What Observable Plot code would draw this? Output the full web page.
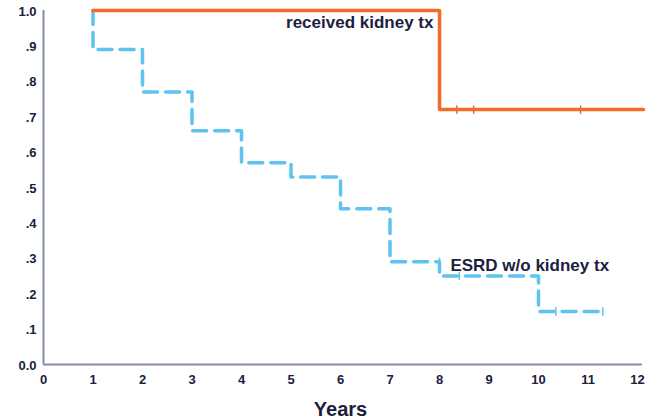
<!DOCTYPE html>
<html><head><meta charset="utf-8">
<script src="https://cdn.jsdelivr.net/npm/d3@7"></script>
<script src="https://cdn.jsdelivr.net/npm/@observablehq/plot@0.6"></script>
<style>
body{margin:0;background:#fff;}
svg{font-family:"Liberation Sans Narrow","Arial Narrow","Liberation Sans",Arial,sans-serif;font-weight:bold;}
</style></head>
<body><div id="chart"></div>
<script>
const xTicks = [0,1,2,3,4,5,6,7,8,9,10,11,12];
const yTicks = [0,0.1,0.2,0.3,0.4,0.5,0.6,0.7,0.8,0.9,1.0];
const yTickLabels = ["0.0",".1",".2",".3",".4",".5",".6",".7",".8",".9","1.0"];
// received kidney tx (step-after)
const txYears = [1, 8, 12.12];
const txSurv = [1.0, 0.72, 0.72];
const txCensorYears = [8.35, 8.69, 10.85];
const txCensorSurv = [0.72, 0.72, 0.72];
// ESRD without kidney tx (step-after)
const esrdYears = [1, 1, 2, 3, 4, 5, 6, 7, 8, 10, 11.3];
const esrdSurv = [1.0, 0.89, 0.77, 0.66, 0.57, 0.53, 0.44, 0.29, 0.25, 0.15, 0.15];
const esrdCensorYears = [8.0, 8.4, 10.35, 11.3];
const esrdCensorSurv = [0.29, 0.25, 0.15, 0.15];

const tx = txYears.map((x,i)=>({x, y: txSurv[i]}));
const esrd = esrdYears.map((x,i)=>({x, y: esrdSurv[i]}));
const txC = txCensorYears.map((x,i)=>({x, y: txCensorSurv[i]}));
const esC = esrdCensorYears.map((x,i)=>({x, y: esrdCensorSurv[i]}));

const axisColor = "#858bab";
const textColor = "#1c2040";
const fmt = d => yTickLabels[yTicks.findIndex(t => Math.abs(t-d)<1e-9)];
const chart = Plot.plot({
  width: 662, height: 419,
  marginLeft: 43, marginRight: 25, marginTop: 10, marginBottom: 55,
  x: {domain: [0,12], label: null},
  y: {domain: [0,1], label: null},
  marks: [
    Plot.axisX({ticks: xTicks, tickSize: 0, tickPadding: 10, fontSize: 13, fontWeight: "bold", fill: textColor, label: null}),
    Plot.axisY({ticks: yTicks, tickSize: 0, tickPadding: 7, dy: 1, fontSize: 13, fontWeight: "bold", fill: textColor, label: null, tickFormat: fmt}),
    Plot.ruleX([0], {stroke: axisColor, strokeWidth: 2}),
    Plot.ruleY([0], {stroke: axisColor, strokeWidth: 2, x2: 12.1}),
    Plot.line(esrd, {x: "x", y: "y", curve: "step-after", stroke: "#5ec4ef", strokeWidth: 3.5, strokeDasharray: "14,8"}),
    Plot.line(tx, {x: "x", y: "y", curve: "step-after", stroke: "#f36a2a", strokeWidth: 3.5}),
    Plot.link(txC, {x1: "x", x2: "x", y1: d => d.y - 0.012, y2: d => d.y + 0.012, stroke: "#f36a2a", strokeWidth: 1.5}),
    Plot.link(esC, {x1: "x", x2: "x", y1: d => d.y - 0.012, y2: d => d.y + 0.012, stroke: "#5ec4ef", strokeWidth: 1.5}),
    Plot.text(["received kidney tx"], {x: 4.9, y: 0.965, textAnchor: "start", fontSize: 17, fontWeight: "bold", fill: textColor, letterSpacing: "-0.3px"}),
    Plot.text(["ESRD w/o kidney tx"], {x: 8.22, y: 0.28, textAnchor: "start", fontSize: 17, fontWeight: "bold", fill: textColor, letterSpacing: "-0.3px"}),
    Plot.text(["Years"], {x: 6, y: 0, dy: 45, textAnchor: "middle", fontSize: 20, fontWeight: "bold", fill: textColor, letterSpacing: "-0.5px"})
  ]
});
document.getElementById("chart").appendChild(chart);
</script></body></html>
